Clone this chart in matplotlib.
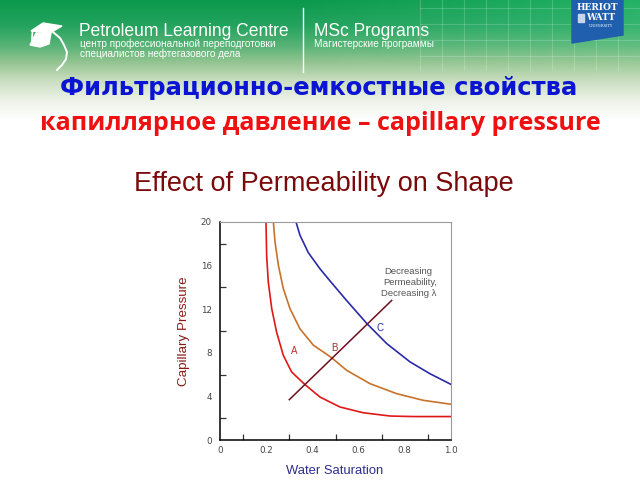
import numpy as np
import matplotlib
matplotlib.use("Agg")
import matplotlib.pyplot as plt
from matplotlib.patches import Polygon, Rectangle

# ---------------- data ----------------
sw_a = [0.199, 0.202, 0.209, 0.224, 0.245, 0.274, 0.310, 0.368, 0.433, 0.519, 0.620, 0.736, 0.837, 1.0]
pc_a = [20.0, 16.9, 14.5, 12.05, 9.9, 7.77, 6.24, 5.08, 3.94, 3.03, 2.5, 2.2, 2.15, 2.15]

sw_b = [0.231, 0.238, 0.253, 0.274, 0.303, 0.346, 0.404, 0.480, 0.548, 0.649, 0.765, 0.880, 1.0]
pc_b = [20.0, 18.2, 16.0, 13.9, 12.05, 10.2, 8.7, 7.6, 6.4, 5.17, 4.25, 3.64, 3.28]

sw_c = [0.329, 0.346, 0.382, 0.433, 0.480, 0.548, 0.635, 0.722, 0.823, 0.909, 1.0]
pc_c = [20.0, 18.8, 17.2, 15.7, 14.5, 12.8, 10.7, 8.84, 7.16, 6.08, 5.1]

sw_arrow = [0.30, 0.743]
pc_arrow = [3.7, 12.8]

curve_labels = ["A", "B", "C"]
label_sw = [0.32, 0.494, 0.693]
label_pc = [8.2, 8.4, 10.3]

x_ticks = [0, 0.2, 0.4, 0.6, 0.8, 1.0]
x_ticklabels = ["0", "0.2", "0.4", "0.6", "0.8", "1.0"]
y_ticks = [0, 4, 8, 12, 16, 20]

# ---------------- figure ----------------
fig = plt.figure(figsize=(6.4, 4.8), dpi=100)
renderer = fig.canvas.get_renderer()


def fit(t, width, lo, hi):
    w = t.get_window_extent(renderer).width
    fs = t.get_fontsize() * width / max(w, 1)
    t.set_fontsize(min(max(fs, lo), hi))


bg = fig.add_axes([0, 0, 1, 1])
bg.set_xlim(0, 640)
bg.set_ylim(480, 0)
bg.axis("off")

# header gradient
stops_y = [0, 25, 45, 62, 80, 100, 120, 480]
stops_c = [(0.04, 0.60, 0.30), (0.14, 0.64, 0.37), (0.34, 0.70, 0.46),
           (0.58, 0.77, 0.57), (0.79, 0.87, 0.75), (0.93, 0.95, 0.91),
           (1.0, 1.0, 1.0), (1.0, 1.0, 1.0)]
rows = np.arange(480)
grad = np.zeros((480, 640, 3))
for k in range(3):
    col = np.interp(rows, stops_y, [c[k] for c in stops_c])
    grad[:, :, k] = col[:, None]
xs = np.arange(640)
hl = np.clip((xs - 300) / 340.0, 0, 1)[None, :] * np.clip(1 - rows / 80.0, 0, 1)[:, None]
for k in range(3):
    grad[:, :, k] = np.clip(grad[:, :, k] + 0.10 * hl, 0, 1)
bg.imshow(grad, extent=(0, 640, 480, 0), aspect="auto", zorder=0)

# faint grid in header right part
for gx in range(420, 640, 22):
    bg.plot([gx, gx], [0, 70], color="white", alpha=0.18, lw=0.8, zorder=1)
for gy in range(8, 70, 16):
    bg.plot([420, 640], [gy, gy], color="white", alpha=0.18, lw=0.8, zorder=1)

# logo (graduation cap + head profile)
bg.add_patch(Polygon([[31, 31], [43, 23], [62, 26], [50, 33]], closed=True,
                     color="white", zorder=2))
bg.add_patch(Polygon([[36, 33], [51, 33], [49, 44], [40, 47], [30, 45]], closed=True,
                     color="white", zorder=2))
bg.plot([32.5, 32, 32], [31.5, 38, 45], color="white", lw=1.2, zorder=2)
bg.plot([53, 60, 64, 67, 66, 62, 57], [32, 38, 45, 52, 59, 65, 70],
        color="white", lw=1.4, zorder=2)

# header texts
sans = ["Liberation Sans", "DejaVu Sans"]
t1 = bg.text(79, 31, "Petroleum Learning Centre", color="white", fontsize=12,
             family=sans, va="center", ha="left", zorder=3)
fit(t1, 211, 8, 14)
t2 = bg.text(80, 44, "центр профессиональной переподготовки", color="white", fontsize=7,
             family=sans, va="center", ha="left", zorder=3)
fit(t2, 210, 5, 7.2)
t3 = bg.text(80, 54, "специалистов нефтегазового дела", color="white", fontsize=7,
             family=sans, va="center", ha="left", zorder=3)
t3.set_fontsize(t2.get_fontsize())
bg.plot([303, 303], [8, 72], color="white", lw=1.0, zorder=3)
t4 = bg.text(314, 31, "MSc Programs", color="white", fontsize=12,
             family=sans, va="center", ha="left", zorder=3)
t4.set_fontsize(t1.get_fontsize())
t5 = bg.text(314, 44, "Магистерские программы", color="white", fontsize=7,
             family=sans, va="center", ha="left", zorder=3)
t5.set_fontsize(t2.get_fontsize())

# Heriot-Watt shield
bg.add_patch(Polygon([[572, 0], [623, 0], [623, 35], [572, 43]], closed=True,
                     color="#1f5fae", zorder=3))
bg.text(597.5, 7, "HERIOT", color="white", fontsize=6.5, family="DejaVu Serif",
        weight="bold", ha="center", va="center", zorder=4)
bg.text(601, 18, "WATT", color="white", fontsize=6.5, family="DejaVu Serif",
        weight="bold", ha="center", va="center", zorder=4)
bg.add_patch(Rectangle((578, 14), 6, 8, color="#c9d6ea", zorder=4))
bg.text(601, 26, "UNIVERSITY", color="white", fontsize=2.6, family="DejaVu Serif",
        ha="center", va="center", zorder=4)

# slide titles
tb = bg.text(318.5, 88, "Фильтрационно-емкостные свойства", color="#0a14d2", fontsize=16,
             family=["DejaVu Sans"], weight="bold", ha="center", va="center", zorder=3)
fit(tb, 523, 12, 17.5)
tr = bg.text(320, 124, "капиллярное давление – capillary pressure", color="#ee1111",
             fontsize=17, family=["Open Sans", "DejaVu Sans"], weight="bold",
             ha="center", va="center", zorder=3)
fit(tr, 560, 12, 18.5)
te = bg.text(324, 184, "Effect of Permeability on Shape", color="#7a0a0a", fontsize=18,
             family=sans, ha="center", va="center", zorder=3)
fit(te, 412, 14, 19.5)

# ---------------- chart ----------------
ax = fig.add_axes([220 / 640, 1 - 440 / 480, 231 / 640, 218 / 480])
ax.patch.set_alpha(0)
ax.plot(sw_a, pc_a, color="#e01818", lw=1.2)
ax.plot(sw_b, pc_b, color="#c8722a", lw=1.2)
ax.plot(sw_c, pc_c, color="#2a2aa8", lw=1.2)
ax.plot(sw_arrow, pc_arrow, color="#6e0f1e", lw=1.1)

lab_colors = ["#c83030", "#a03030", "#2a2aa8"]
for t, x, y, c in zip(curve_labels, label_sw, label_pc, lab_colors):
    ax.text(x, y, t, color=c, fontsize=7, ha="center", va="center", family=sans)

ax.text(0.815, 15.5, "Decreasing", color="#555555", fontsize=6.8, ha="center",
        va="center", family=sans)
ax.text(0.825, 14.45, "Permeability,", color="#555555", fontsize=6.8, ha="center",
        va="center", family=sans)
ax.text(0.815, 13.4, "Decreasing λ", color="#555555", fontsize=6.8, ha="center",
        va="center", family=sans)

ax.set_xlim(0, 1.0)
ax.set_ylim(0, 20)
ax.set_xticks(x_ticks)
ax.set_xticklabels(x_ticklabels)
ax.set_yticks(y_ticks)
ax.set_xticks(np.arange(0.1, 1.0, 0.1), minor=True)
ax.set_yticks(np.arange(2, 20, 4), minor=True)
ax.tick_params(axis="both", which="both", direction="in", colors="#333333",
               labelsize=6.3, labelcolor="#444444")
ax.tick_params(axis="x", which="major", length=0, pad=4)
ax.tick_params(axis="x", which="minor", length=4, width=0.9)
ax.tick_params(axis="y", which="major", length=0, pad=6)
ax.tick_params(axis="y", which="minor", length=4, width=0.9)
for s in ("left", "bottom"):
    ax.spines[s].set_color("black")
    ax.spines[s].set_linewidth(1.1)
for s in ("top", "right"):
    ax.spines[s].set_color("#9a9a9a")

bg.text(184, 331, "Capillary Pressure", color="#8b1a1a", fontsize=9.6, rotation=90,
        ha="center", va="center", family=sans, zorder=3)
bg.text(335, 471, "Water Saturation", color="#2e2e8c", fontsize=9.4,
        ha="center", va="center", family=sans, zorder=3)

fig.savefig("out.png", dpi=100)
